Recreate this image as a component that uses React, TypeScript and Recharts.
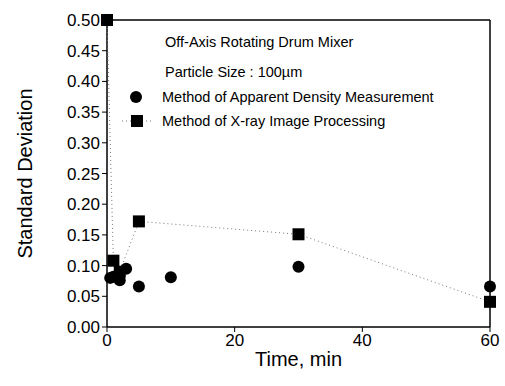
import React from 'react';
import { ComposedChart, Scatter, XAxis, YAxis, Label } from 'recharts';

const densityTime = [0.5, 1, 2, 3, 5, 10, 30, 60];
const densityStd = [0.08, 0.082, 0.076, 0.095, 0.066, 0.081, 0.098, 0.066];
const xrayTime = [0, 1, 2, 5, 30, 60];
const xrayStd = [0.5, 0.108, 0.09, 0.172, 0.151, 0.041];
const xTicks = [0, 20, 40, 60];
const yTicks = [0, 0.05, 0.1, 0.15, 0.2, 0.25, 0.3, 0.35, 0.4, 0.45, 0.5];

const densityData = densityTime.map((t, i) => ({ t, v: densityStd[i] }));
const xrayData = xrayTime.map((t, i) => ({ t, v: xrayStd[i] }));

const FONT = '"Liberation Sans", Arial, sans-serif';

const Circle = (p: any) => <circle cx={p.cx} cy={p.cy} r={6} fill="#000" />;
const Square = (p: any) => <rect x={p.cx - 6} y={p.cy - 6} width={12} height={12} fill="#000" />;

export default function App() {
  return (
    <div style={{ position: 'absolute', left: 0, top: 0, width: 505, height: 386, background: '#fff' }}>
      <ComposedChart width={505} height={386} margin={{ top: 19, right: 14, left: 0, bottom: 0 }}>
        <XAxis
          xAxisId="b"
          type="number"
          dataKey="t"
          domain={[0, 60]}
          ticks={xTicks}
          height={59}
          tickSize={5}
          stroke="#000"
          tick={{ fill: '#000', fontSize: 17, fontFamily: FONT }}
          axisLine={{ stroke: '#000', strokeWidth: 1.5 }}
        >
          <Label value="Time, min" position="insideBottom" offset={20} style={{ fill: '#000', fontSize: 20, fontFamily: FONT }} />
        </XAxis>
        <XAxis
          xAxisId="t"
          orientation="top"
          type="number"
          dataKey="t"
          domain={[0, 60]}
          ticks={xTicks}
          height={1}
          tickSize={4}
          tick={false}
          stroke="#000"
          axisLine={{ stroke: '#000', strokeWidth: 1.5 }}
        />
        <YAxis
          yAxisId="l"
          type="number"
          dataKey="v"
          domain={[0, 0.5]}
          ticks={yTicks}
          width={107}
          tickSize={5}
          stroke="#000"
          tickFormatter={(v: number) => v.toFixed(2)}
          tick={{ fill: '#000', fontSize: 17, fontFamily: FONT }}
          axisLine={{ stroke: '#000', strokeWidth: 1.5 }}
        >
          <Label value="Standard Deviation" angle={-90} position="insideLeft" offset={25} style={{ fill: '#000', fontSize: 20, fontFamily: FONT, textAnchor: 'middle' }} />
        </YAxis>
        <YAxis
          yAxisId="r"
          orientation="right"
          type="number"
          dataKey="v"
          domain={[0, 0.5]}
          ticks={yTicks}
          width={1}
          tickSize={4}
          tick={false}
          stroke="#000"
          axisLine={{ stroke: '#000', strokeWidth: 1.5 }}
        />
        <Scatter
          data={xrayData}
          xAxisId="b"
          yAxisId="l"
          dataKey="v"
          line={{ stroke: '#777', strokeWidth: 1, strokeDasharray: '1 3' }}
          lineType="joint"
          shape={Square}
          isAnimationActive={false}
        />
        <Scatter
          data={densityData}
          xAxisId="b"
          yAxisId="l"
          dataKey="v"
          shape={Circle}
          isAnimationActive={false}
        />
      </ComposedChart>
      <svg width={505} height={386} style={{ position: 'absolute', left: 0, top: 0, pointerEvents: 'none' }}>
        <g fontFamily={FONT} fontSize={14.5} fill="#000">
          <text x={165} y={47}>Off-Axis Rotating Drum Mixer</text>
          <text x={165} y={77}>Particle Size : 100µm</text>
          <circle cx={136} cy={97} r={6} fill="#000" />
          <text x={162} y={102}>Method of Apparent Density Measurement</text>
          <line x1={122} y1={121} x2={153} y2={121} stroke="#777" strokeDasharray="1 3" />
          <rect x={131} y={115} width={12} height={12} fill="#000" />
          <text x={162} y={126}>Method of X-ray Image Processing</text>
        </g>
      </svg>
    </div>
  );
}
